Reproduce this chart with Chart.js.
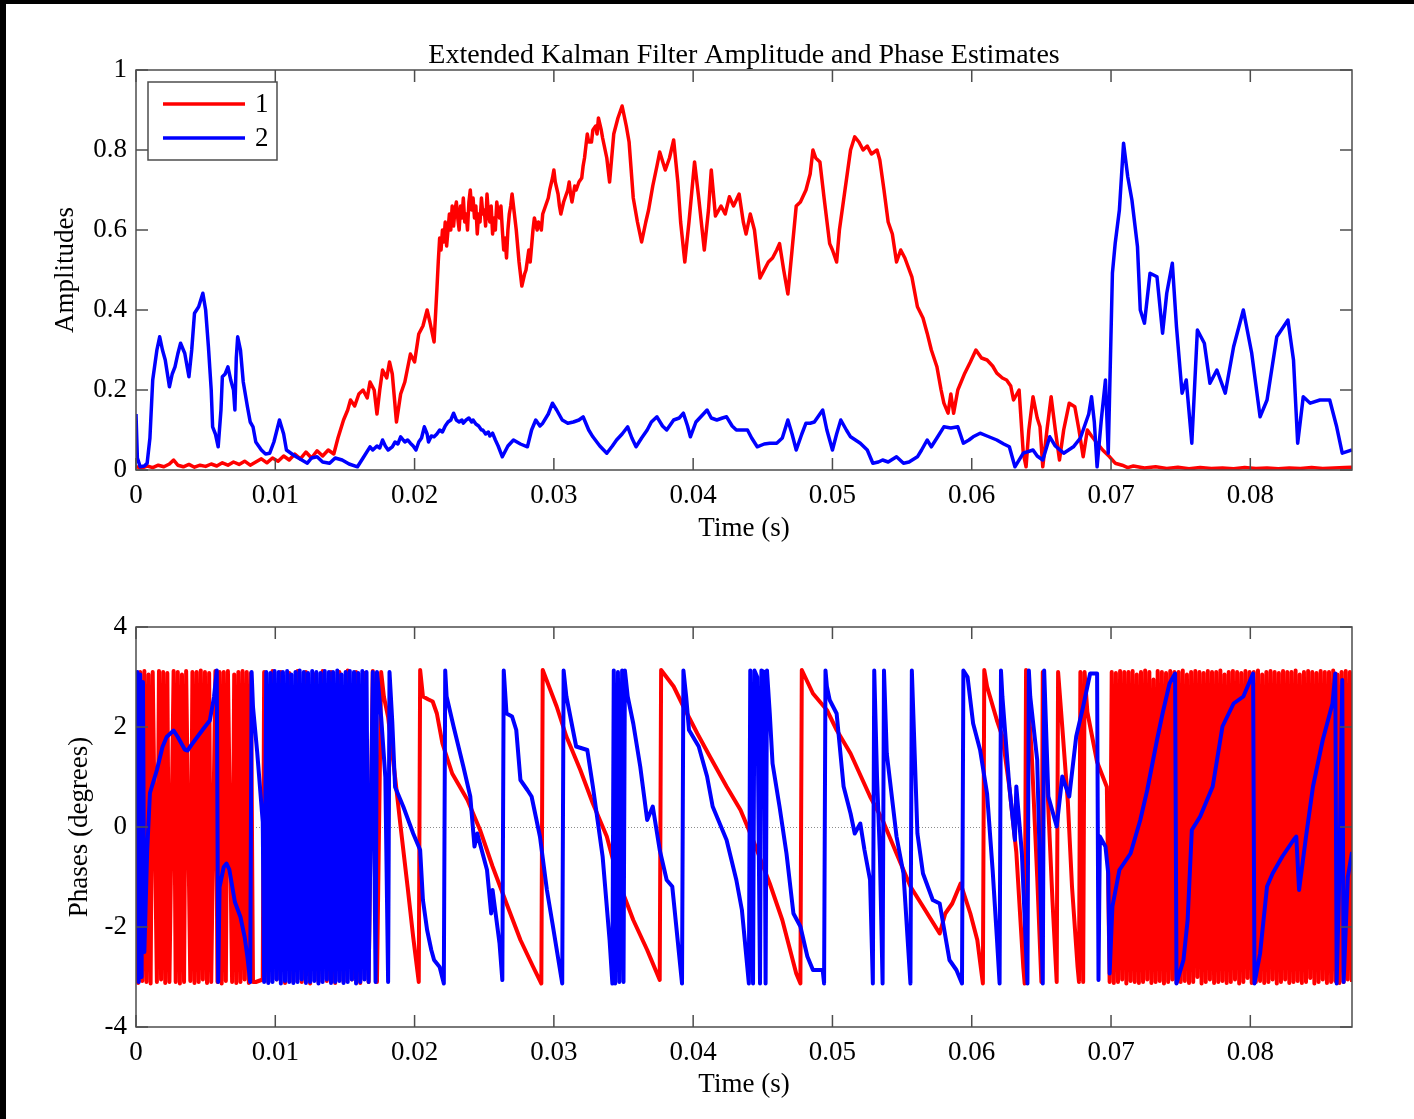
<!DOCTYPE html>
<html>
<head>
<meta charset="utf-8">
<script src="https://cdn.jsdelivr.net/npm/chart.js@4.4.1/dist/chart.umd.min.js"></script>
<style>
  html, body { margin: 0; padding: 0; background: #000; overflow: hidden; }
  #sheet { position: absolute; left: 6px; top: 4px; width: 1408px; height: 1115px; background: #fff; }
  .box { position: absolute; left: 0; width: 1414px; }
</style>
</head>
<body>
<div id="sheet"></div>
<div class="box" style="top:0;height:560px"><canvas id="amp"></canvas></div>
<div class="box" style="top:560px;height:559px"><canvas id="phase"></canvas></div>
<script>
// series names and tick values
const seriesNames = ['1', '2'];
const timeTicks = [0, 0.01, 0.02, 0.03, 0.04, 0.05, 0.06, 0.07, 0.08];
const ampTicks = [0, 0.2, 0.4, 0.6, 0.8, 1];
const phaseTicks = [-4, -2, 0, 2, 4];

// amplitude estimates [time (s), amplitude]
const amp1 = [[0,.008],[.0004,.005],[.0008,.01],[.0012,.006],[.0016,.012],[.002,.008],[.0024,.015],[.0027,.025],[.003,.012],[.0034,.008],[.0038,.014],[.0042,.007],[.0046,.012],[.005,.009],[.0054,.015],[.0058,.01],[.0062,.018],[.0066,.012],[.007,.02],[.0074,.014],[.0078,.022],[.0082,.012],[.0086,.02],[.009,.028],[.0094,.018],[.0098,.03],[.0102,.022],[.0106,.035],[.011,.025],[.0114,.04],[.0118,.028],[.0122,.045],[.0126,.03],[.013,.048],[.0134,.035],[.0138,.05],[.0142,.04],[.0145,.08],[.0149,.125],[.0152,.15],[.0154,.175],[.0157,.16],[.016,.19],[.0163,.2],[.0166,.18],[.0168,.22],[.0171,.2],[.0173,.14],[.0175,.2],[.0177,.25],[.018,.23],[.0182,.27],[.0184,.24],[.0187,.12],[.019,.19],[.0193,.22],[.0197,.29],[.02,.27],[.0203,.34],[.0206,.36],[.0209,.4],[.0211,.37],[.0214,.32],[.0216,.45],[.0217,.52],[.0218,.58],[.0219,.55],[.022,.6],[.0221,.57],[.0222,.62],[.0223,.56],[.0224,.6],[.0225,.64],[.0226,.6],[.0227,.66],[.0228,.61],[.0229,.65],[.023,.67],[.0231,.63],[.0232,.6],[.0233,.66],[.0234,.63],[.0235,.68],[.0236,.62],[.0237,.64],[.0238,.6],[.0239,.67],[.024,.7],[.0241,.65],[.0242,.68],[.0243,.63],[.0244,.66],[.0245,.59],[.0246,.64],[.0247,.62],[.0248,.68],[.0249,.64],[.025,.65],[.0251,.61],[.0252,.69],[.0253,.64],[.0254,.62],[.0255,.66],[.0256,.59],[.0257,.63],[.0258,.6],[.0259,.67],[.026,.64],[.0261,.63],[.0262,.66],[.0263,.6],[.0264,.55],[.0265,.58],[.0266,.53],[.0267,.6],[.0268,.64],[.0269,.66],[.027,.69],[.0271,.66],[.0272,.63],[.0273,.6],[.0275,.52],[.0277,.46],[.0279,.49],[.028,.5],[.0282,.55],[.0283,.52],[.0285,.6],[.0286,.63],[.0288,.6],[.0289,.62],[.0291,.6],[.0292,.64],[.0294,.66],[.0296,.68],[.0297,.7],[.0299,.73],[.03,.75],[.0301,.72],[.0303,.69],[.0304,.66],[.0305,.64],[.0307,.67],[.0308,.68],[.031,.7],[.0311,.72],[.0312,.69],[.0313,.67],[.0315,.71],[.0316,.7],[.0318,.72],[.032,.73],[.0321,.76],[.0322,.78],[.0323,.81],[.0324,.84],[.0325,.82],[.0327,.82],[.0328,.85],[.033,.86],[.0331,.84],[.0332,.88],[.0334,.85],[.0335,.83],[.0338,.78],[.034,.72],[.0343,.84],[.0346,.88],[.0349,.91],[.0352,.86],[.0354,.82],[.0357,.68],[.036,.62],[.0363,.57],[.0366,.62],[.0368,.65],[.0371,.71],[.0374,.76],[.0376,.795],[.038,.75],[.0383,.78],[.0386,.825],[.0389,.72],[.0391,.62],[.0394,.52],[.0397,.62],[.0401,.77],[.0404,.68],[.0408,.55],[.0411,.65],[.0413,.75],[.0416,.635],[.042,.66],[.0423,.64],[.0426,.683],[.0429,.66],[.0433,.69],[.0436,.62],[.0438,.59],[.0441,.64],[.0444,.6],[.0448,.48],[.0451,.5],[.0454,.52],[.0457,.53],[.046,.55],[.0462,.566],[.0465,.5],[.0468,.44],[.0471,.55],[.0474,.66],[.0477,.67],[.0481,.7],[.0484,.74],[.0486,.8],[.0488,.78],[.0491,.77],[.0494,.68],[.0498,.566],[.05,.55],[.0503,.52],[.0505,.6],[.0508,.675],[.0511,.75],[.0513,.8],[.0516,.833],[.0519,.82],[.0522,.8],[.0525,.81],[.0528,.79],[.0532,.8],[.0534,.775],[.0537,.7],[.054,.62],[.0543,.59],[.0546,.52],[.0549,.55],[.0552,.53],[.0557,.483],[.0561,.408],[.0565,.38],[.0568,.342],[.0571,.3],[.0575,.258],[.0578,.2],[.058,.167],[.0583,.142],[.0585,.19],[.0587,.142],[.059,.2],[.0595,.242],[.0599,.27],[.0603,.3],[.0607,.28],[.0611,.275],[.0615,.26],[.0618,.242],[.0622,.23],[.0625,.225],[.0628,.21],[.063,.175],[.0634,.2],[.0637,.042],[.0639,.008],[.0641,.1],[.0644,.183],[.0647,.13],[.0649,.108],[.0651,.008],[.0654,.1],[.0657,.183],[.066,.1],[.0663,.025],[.0666,.1],[.067,.167],[.0674,.158],[.0677,.1],[.068,.033],[.0683,.1],[.0686,.085],[.069,.067],[.0694,.05],[.0699,.033],[.0703,.017],[.0708,.012],[.0712,.006],[.0716,.01],[.0724,.005],[.0732,.008],[.074,.004],[.0748,.007],[.0756,.003],[.0764,.006],[.0772,.004],[.078,.005],[.0788,.003],[.0796,.006],[.0804,.004],[.0812,.005],[.082,.003],[.0828,.005],[.0836,.004],[.0844,.006],[.0852,.004],[.086,.005],[.0868,.006],[.0873,.007]];

const amp2 = [[0,.14],[.0001,.03],[.0003,.008],[.0006,.01],[.0008,.017],[.001,.08],[.0012,.225],[.0015,.3],[.0017,.333],[.0019,.3],[.0021,.275],[.0024,.208],[.0026,.24],[.0028,.258],[.003,.29],[.0032,.317],[.0034,.3],[.0035,.292],[.0038,.233],[.004,.3],[.0042,.392],[.0045,.408],[.0048,.442],[.005,.4],[.0052,.308],[.0054,.2],[.0055,.108],[.0057,.09],[.0059,.058],[.0061,.15],[.0062,.233],[.0064,.24],[.0066,.258],[.0068,.225],[.007,.2],[.0071,.15],[.0072,.28],[.0073,.333],[.0075,.3],[.0077,.22],[.008,.158],[.0082,.12],[.0084,.108],[.0086,.07],[.009,.05],[.0093,.04],[.0096,.042],[.0099,.07],[.0103,.125],[.0106,.09],[.0108,.05],[.0112,.04],[.0115,.033],[.0119,.025],[.0123,.017],[.0126,.03],[.013,.033],[.0134,.02],[.0139,.017],[.0143,.03],[.0148,.025],[.0153,.015],[.0159,.008],[.0163,.03],[.0168,.058],[.017,.05],[.0173,.06],[.0175,.055],[.0177,.075],[.0179,.06],[.0181,.05],[.0184,.058],[.0186,.07],[.0188,.065],[.019,.083],[.0193,.07],[.0195,.075],[.0197,.067],[.0199,.06],[.0201,.05],[.0203,.07],[.0205,.08],[.0207,.108],[.0209,.09],[.021,.07],[.0212,.085],[.0214,.083],[.0216,.09],[.0218,.1],[.022,.095],[.0222,.11],[.0224,.12],[.0226,.125],[.0228,.142],[.023,.125],[.0232,.12],[.0234,.125],[.0235,.117],[.0237,.125],[.0239,.13],[.0241,.12],[.0242,.125],[.0244,.115],[.0246,.11],[.0248,.1],[.0249,.1],[.0251,.09],[.0253,.095],[.0254,.085],[.0256,.092],[.0258,.075],[.026,.06],[.0263,.033],[.0267,.06],[.0271,.075],[.0276,.065],[.0281,.058],[.0284,.1],[.0287,.125],[.029,.11],[.0292,.117],[.0296,.14],[.0299,.167],[.0302,.15],[.0306,.125],[.031,.117],[.0314,.12],[.0318,.125],[.0321,.133],[.0325,.1],[.0328,.083],[.0333,.06],[.0338,.042],[.0342,.06],[.0345,.075],[.0349,.09],[.0353,.108],[.0356,.08],[.0359,.058],[.0363,.08],[.0367,.1],[.037,.12],[.0374,.133],[.0378,.11],[.0381,.1],[.0386,.125],[.039,.13],[.0393,.142],[.0396,.11],[.0398,.083],[.0402,.12],[.041,.15],[.0413,.13],[.0417,.125],[.0421,.13],[.0424,.133],[.0428,.11],[.0431,.1],[.0436,.1],[.0439,.1],[.0442,.08],[.0446,.058],[.0451,.065],[.0455,.067],[.046,.067],[.0464,.08],[.0468,.125],[.0471,.09],[.0474,.05],[.0478,.09],[.0481,.117],[.0484,.117],[.0487,.12],[.0493,.15],[.0496,.1],[.05,.05],[.0503,.09],[.0506,.125],[.051,.1],[.0513,.083],[.052,.067],[.0525,.05],[.0529,.017],[.0533,.02],[.0536,.025],[.054,.02],[.0546,.033],[.0551,.017],[.0555,.02],[.0561,.033],[.0564,.05],[.0568,.075],[.0571,.058],[.0575,.08],[.058,.108],[.0585,.105],[.059,.108],[.0594,.067],[.0598,.075],[.0601,.083],[.0606,.092],[.0611,.085],[.0618,.075],[.0623,.065],[.0627,.058],[.0631,.008],[.0637,.042],[.0644,.05],[.0647,.035],[.0651,.025],[.0656,.083],[.066,.06],[.0666,.042],[.0673,.058],[.0678,.08],[.068,.1],[.0684,.14],[.0686,.183],[.0688,.12],[.069,.008],[.0693,.125],[.0696,.225],[.0698,.042],[.0701,.492],[.0703,.567],[.0706,.65],[.0709,.817],[.0712,.733],[.0715,.675],[.0719,.558],[.0721,.4],[.0724,.367],[.0728,.492],[.0733,.483],[.0737,.342],[.074,.442],[.0744,.517],[.0747,.358],[.0751,.192],[.0754,.225],[.0758,.067],[.0762,.35],[.0767,.317],[.0771,.217],[.0776,.25],[.0782,.192],[.0788,.308],[.0795,.4],[.0801,.292],[.0807,.133],[.0812,.175],[.0819,.333],[.0827,.375],[.0831,.275],[.0834,.067],[.0838,.183],[.0843,.167],[.085,.175],[.0857,.175],[.0862,.108],[.0866,.042],[.0873,.05]];

// phase estimates [time (s), phase]
const phase1 = [[0,3.1],[.00015,-3.12],[.0003,3.1],[.00045,-3.08],[.0006,3.12],[.00075,-3.1],[.0009,3.05],[.00105,-3.13],[.0012,3.1],[.0015,-3.1],[.00165,3.12],[.0018,-3.05],[.00195,3.1],[.0021,-3.12],[.00225,3.08],[.0024,-3.1],[.0027,3.12],[.00285,-3.1],[.003,3.1],[.00315,-3.13],[.0033,3.05],[.00345,-3.1],[.0036,3.12],[.0039,-3.08],[.00405,3.1],[.0042,-3.12],[.00435,3.1],[.0045,-3.1],[.00465,3.13],[.0048,-3.05],[.00495,3.1],[.0051,-3.12],[.00525,3.08],[.0054,-3.1],[.0057,3.12],[.00585,-3.1],[.006,3.1],[.00615,-3.13],[.0063,3.1],[.00645,-3.08],[.0066,3.12],[.0069,-3.1],[.00705,3.05],[.0072,-3.12],[.00735,3.1],[.0075,-3.1],[.00765,3.12],[.0078,-3.05],[.00795,3.1],[.0081,-3.12],[.00825,3.08],[.0084,-3.1],[.0086,-3.1],[.0091,-3.05],
[.0092,3.1],[.0095,-3.1],[.0098,3.12],[.0101,-3.05],[.0104,3.1],[.0107,-3.12],[.011,3.08],[.0113,-3.1],[.0116,3.12],[.0119,-3.1],[.0122,3.1],[.0125,-3.13],[.0128,3.05],[.0131,-3.1],[.0134,3.12],[.0137,-3.08],[.014,3.1],[.0143,-3.12],[.0146,3.1],[.0149,-3.1],[.0152,3.13],[.0155,-3.05],[.0158,3.1],[.0161,-3.12],[.0164,3.08],[.0167,-3.1],[.017,3.12],[.0173,-3.1],
[.0176,3.1],[.0178,2.6],[.0181,2.2],[.0186,1.0],[.019,0.0],[.0195,-1.2],[.0199,-2.2],[.0203,-3.1],[.0204,3.14],[.0206,2.61],[.021,2.55],[.0213,2.51],[.0216,2.27],[.022,1.67],[.0227,1.07],[.0238,.54],[.0247,-.06],[.0256,-.79],[.0266,-1.53],[.0276,-2.26],[.0285,-2.79],[.0291,-3.13],[.0292,3.14],[.0302,2.41],[.0309,1.81],[.0319,1.14],[.0328,.47],[.0338,-.19],[.0347,-1.13],[.0357,-1.86],[.0367,-2.46],[.0376,-3.06],[.0377,3.14],[.0386,2.81],[.0393,2.41],[.0403,1.87],[.0412,1.41],[.0424,.81],[.0434,.34],[.0443,-.26],[.0455,-1.13],[.0464,-1.86],[.0474,-2.93],[.0477,-3.13],[.0478,3.14],[.0486,2.67],[.0496,2.34],[.0503,1.94],[.0513,1.47],[.0527,.61],[.0536,.14],[.0546,-.53],[.0556,-1.19],[.0565,-1.59],[.0577,-2.13],[.0581,-1.73],[.0586,-1.53],[.0592,-1.13],[.0599,-1.73],[.0604,-2.26],[.0608,-3.13],[.0609,3.14],[.0611,2.81],[.0618,2.14],[.0622,1.81],[.0627,.8],[.0632,-.5],[.0637,-2.8],[.0638,-3.13],[.0639,3.14],[.0643,1.5],[.0647,-1.0],[.065,-3.1],[.0651,3.1],[.0654,1.0],[.0658,-1.5],[.0661,-3.1],[.0662,3.1],[.0665,2.0],[.0669,.5],[.0672,-1.2],[.0676,-2.8],[.0677,-3.1],[.0678,3.1],[.068,-3.1],[.0681,3.1],[.0683,2.3],[.069,1.3],[.0697,.8],[.0699,-3.1],
[.07005,3.1],[.0702,-3.12],[.07035,3.08],[.0705,-3.1],[.07065,3.12],[.0708,-3.05],[.07095,3.1],[.0711,-3.13],[.07125,3.1],[.0714,-3.08],[.07155,3.12],[.0717,-3.1],[.07185,3.05],[.072,-3.12],[.07215,3.1],[.0723,-3.1],[.07245,3.13],[.0726,-3.05],[.07275,3.1],[.0729,-3.12],[.07305,2.95],[.0732,-3.1],[.07335,3.12],[.0735,-3.08],[.07365,3.1],[.0738,-3.13],[.07395,3.08],[.0741,-3.1],[.07425,3.12],[.0744,-3.05],[.07455,3.1],[.0747,-3.12],[.07485,3.1],[.075,-3.1],[.07515,3.13],[.0753,-3.08],[.07545,3.05],[.0756,-3.12],[.07575,3.1],[.0759,-3.1],[.07605,3.12],[.0762,-3.0],[.07635,3.1],[.0765,-3.13],[.07665,3.08],[.0768,-3.1],[.07695,3.12],[.0771,-3.05],[.07725,3.1],[.0774,-3.12],[.07755,3.1],[.0777,-3.1],[.07785,3.13],[.078,-3.08],[.07815,3.05],[.0783,-3.12],[.07845,3.1],[.0786,-3.1],[.07875,3.12],[.0789,-3.05],[.07905,3.1],[.0792,-3.13],[.07935,3.08],[.0795,-3.1],[.07965,3.12],[.0798,-3.02],[.07995,3.1],[.0801,-3.12],[.08025,3.1],[.0804,-3.1],[.08055,3.13],[.0807,-3.08],[.08085,3.05],[.081,-3.12],[.08115,3.1],[.0813,-3.1],[.08145,3.12],[.0816,-3.05],[.08175,3.1],[.0819,-3.13],[.08205,3.08],[.0822,-3.1],[.08235,3.12],[.0825,-3.05],[.08265,3.1],[.0828,-3.12],[.08295,3.1],[.0831,-3.1],[.08325,3.13],[.0834,-3.08],[.08355,3.05],[.0837,-3.12],[.08385,3.1],[.084,-3.1],[.08415,3.12],[.0843,-3.02],[.08445,3.1],[.0846,-3.13],[.08475,3.08],[.0849,-3.1],[.08505,3.12],[.0852,-3.05],[.08535,3.1],[.0855,-3.12],[.08565,3.1],[.0858,-3.1],[.08595,3.13],[.0861,-3.08],[.08625,3.05],[.0864,-3.12],[.08655,3.1],[.0867,-3.1],[.08685,3.12],[.087,-3.05],[.08715,3.1],[.0873,-3.1]];

const phase2 = [[0,.8],[.0001,3.1],[.0002,-3.1],[.0003,3.05],[.0004,-3.0],[.0005,2.9],[.0006,-2.5],[.0008,-.5],[.001,.68],[.0015,1.14],[.0019,1.6],[.0022,1.8],[.0027,1.93],[.003,1.8],[.0032,1.7],[.0035,1.55],[.0037,1.53],[.004,1.65],[.0044,1.8],[.0048,1.95],[.0053,2.13],[.0056,2.6],[.0058,3.13],[.0059,-3.1],[.006,-1.2],[.0063,-.8],[.0065,-.73],[.0067,-.85],[.0071,-1.5],[.0075,-1.8],[.0078,-2.2],[.008,-2.6],[.0082,-3.1],[.0083,3.1],[.0084,2.4],[.0087,1.5],[.0089,.8],[.0091,.1],
[.0092,-3.1],[.00935,3.1],[.0095,-3.12],[.00965,3.08],[.0098,-3.1],[.00995,3.12],[.0101,-3.05],[.01025,3.1],[.0104,-3.13],[.01055,3.1],[.0107,-3.08],[.01085,3.12],[.011,-3.1],[.01115,3.05],[.0113,-3.12],[.01145,3.1],[.0116,-3.1],[.01175,3.13],[.0119,-3.05],[.01205,3.1],[.0122,-3.12],[.01235,3.08],[.0125,-3.1],[.01265,3.12],[.0128,-3.08],[.01295,3.1],[.0131,-3.13],[.01325,3.08],[.0134,-3.1],[.01355,3.12],[.0137,-3.05],[.01385,3.1],[.014,-3.12],[.01415,3.1],[.0143,-3.1],[.01445,3.13],[.0146,-3.08],[.01475,3.05],[.0149,-3.12],[.01505,3.1],[.0152,-3.1],[.01535,3.12],[.0155,-3.05],[.01565,3.1],[.0158,-3.13],[.01595,3.08],[.0161,-3.1],[.01625,3.12],[.0164,-3.05],[.01655,3.1],[.0167,-3.1],
[.017,3.1],[.0172,-3.1],[.0173,3.1],[.0176,2.2],[.0179,1.0],[.0181,-3.1],[.0182,3.1],[.0184,2.1],[.0186,.8],[.0192,.4],[.0199,-.13],[.0204,-.46],[.0206,-1.46],[.0209,-2.06],[.0212,-2.46],[.0214,-2.66],[.0218,-2.8],[.0221,-3.13],[.0222,3.13],[.0223,2.61],[.0228,2.01],[.0235,1.21],[.024,.61],[.0243,-.39],[.0245,-.13],[.0252,-.86],[.0255,-1.73],[.0256,-1.26],[.0261,-2.33],[.0263,-3.06],[.0264,3.13],[.0266,2.27],[.027,2.21],[.0273,1.94],[.0276,.94],[.0281,.74],[.0284,.61],[.029,-.19],[.0295,-1.26],[.0299,-1.93],[.0306,-3.13],[.0307,3.13],[.0309,2.61],[.0316,1.61],[.0324,1.54],[.0328,.81],[.0335,-.59],[.034,-2.26],[.0342,-3.13],[.0343,3.13],[.0344,-3.13],[.0346,3.1],[.0347,-3.1],[.0349,3.13],[.035,-3.1],[.0351,3.13],[.0353,2.61],[.0357,2.07],[.0362,1.21],[.0367,.14],[.0371,.41],[.0376,-.46],[.0381,-1.06],[.0385,-1.19],[.0392,-3.13],[.0393,3.13],[.0395,2.6],[.0397,1.94],[.0404,1.61],[.041,1.01],[.0414,.41],[.0424,-.26],[.0431,-1.06],[.0435,-1.66],[.044,-3.13],[.0441,3.13],[.0443,-3.13],[.0444,3.13],[.0446,3.0],[.0448,-3.13],[.0449,3.13],[.0451,3.1],[.0452,-3.13],[.0453,3.13],[.0455,2.27],[.0457,1.27],[.0462,.41],[.0467,-.53],[.0472,-1.73],[.0477,-1.99],[.0482,-2.59],[.0486,-2.86],[.0493,-2.86],[.0494,-3.13],[.0495,3.13],[.0496,2.81],[.0498,2.54],[.0503,2.27],[.0508,.81],[.0513,.27],[.0516,-.13],[.052,.07],[.0523,-.46],[.0527,-1.06],[.0529,-3.13],[.053,3.13],[.0532,1.0],[.0534,-.5],[.0536,-3.13],[.0537,3.13],[.0539,1.47],[.0546,-.19],[.0551,-.93],[.0556,-3.13],[.0557,3.13],[.0561,-.13],[.0565,-.93],[.0572,-1.46],[.0577,-1.53],[.0584,-2.66],[.0589,-2.86],[.0593,-3.13],[.0594,3.13],[.0597,3.0],[.0601,2.07],[.0606,1.54],[.0611,.67],[.0615,-.86],[.0618,-2.19],[.062,-3.13],[.0621,3.13],[.0622,2.61],[.0627,.81],[.0631,-.26],[.0632,.81],[.0636,-.53],[.064,-3.13],[.0641,3.13],[.0642,2.61],[.0647,1.34],[.0651,-3.13],[.0652,3.13],[.0655,.61],[.0661,.01],[.0665,1.01],[.067,.61],[.0675,1.81],[.068,2.41],[.0685,3.07],[.069,3.07],[.0691,-3.06],[.0692,-.19],[.0696,-.39],[.0698,-.93],[.0699,-2.93],[.0701,-1.59],[.0706,-.86],[.0714,-.53],[.0721,.14],[.0726,.74],[.0733,1.74],[.0737,2.27],[.0742,2.87],[.0746,3.07],[.0747,-3.13],[.0752,-2.66],[.0755,-1.86],[.0758,-.06],[.0764,.21],[.0773,.81],[.078,2.01],[.0788,2.47],[.0795,2.61],[.0802,3.07],[.0803,-3.13],[.0807,-2.53],[.0812,-1.19],[.0816,-.93],[.0823,-.59],[.0831,-.26],[.0833,-.19],[.0835,-1.26],[.084,-.19],[.0845,.81],[.0852,1.74],[.0859,2.47],[.0861,3.07],[.0862,-3.13],[.0864,-.86],[.0866,2.94],[.0867,-3.1],[.087,-1.0],[.0873,-.5]];

const FONT = "'Liberation Serif', 'Times New Roman', serif";
const RED = '#ff0000';
const BLUE = '#0000ff';
const AXIS = '#4d4d4d';

const toXY = pts => pts.map(([x, y]) => ({ x, y }));

// MATLAB style box with inward ticks, optional dotted zero line
const framePlugin = {
  id: 'frame',
  beforeDatasetsDraw(chart, args, opts) {
    if (!opts.zeroLine) return;
    const { ctx, chartArea: a, scales: { y } } = chart;
    const py = Math.round(y.getPixelForValue(0)) + 0.5;
    ctx.save();
    ctx.strokeStyle = '#8c8c8c';
    ctx.lineWidth = 1;
    ctx.setLineDash([1, 2]);
    ctx.beginPath();
    ctx.moveTo(a.left, py);
    ctx.lineTo(a.right, py);
    ctx.stroke();
    ctx.restore();
  },
  afterDatasetsDraw(chart) {
    const { ctx, chartArea: a, scales: { x, y } } = chart;
    const len = 12;
    ctx.save();
    ctx.strokeStyle = AXIS;
    ctx.lineWidth = 1.5;
    ctx.strokeRect(a.left, a.top, a.right - a.left, a.bottom - a.top);
    ctx.beginPath();
    x.ticks.forEach(t => {
      const px = x.getPixelForValue(t.value);
      ctx.moveTo(px, a.bottom); ctx.lineTo(px, a.bottom - len);
      ctx.moveTo(px, a.top); ctx.lineTo(px, a.top + len);
    });
    y.ticks.forEach(t => {
      const py = y.getPixelForValue(t.value);
      ctx.moveTo(a.left, py); ctx.lineTo(a.left + len, py);
      ctx.moveTo(a.right, py); ctx.lineTo(a.right - len, py);
    });
    ctx.stroke();
    ctx.restore();
  }
};

// legend box drawn inside the plot area (top left)
const insideLegend = {
  id: 'insideLegend',
  afterDraw(chart, args, opts) {
    if (!opts.show) return;
    const { ctx, chartArea: a } = chart;
    const bx = a.left + 12, by = a.top + 12, bw = 129, bh = 78;
    ctx.save();
    ctx.fillStyle = '#fff';
    ctx.fillRect(bx, by, bw, bh);
    ctx.strokeStyle = AXIS;
    ctx.lineWidth = 1.5;
    ctx.strokeRect(bx, by, bw, bh);
    chart.data.datasets.forEach((ds, i) => {
      const ly = by + 22 + i * 34;
      ctx.strokeStyle = ds.borderColor;
      ctx.lineWidth = 3.5;
      ctx.beginPath();
      ctx.moveTo(bx + 15, ly);
      ctx.lineTo(bx + 97, ly);
      ctx.stroke();
      ctx.fillStyle = '#000';
      ctx.font = '27px ' + FONT;
      ctx.textBaseline = 'middle';
      ctx.fillText(ds.label, bx + 107, ly + 1);
    });
    ctx.restore();
  }
};

function datasets(a, b, w) {
  return [
    { label: seriesNames[0], data: toXY(a), borderColor: RED, borderWidth: w, order: 1 },
    { label: seriesNames[1], data: toXY(b), borderColor: BLUE, borderWidth: w, order: 0 }
  ];
}

function options(cfg) {
  return {
    animation: false,
    responsive: true,
    maintainAspectRatio: false,
    layout: { padding: { top: cfg.padTop, right: 62, left: 0, bottom: 0 } },
    elements: {
      point: { radius: 0 },
      line: { tension: 0, borderJoinStyle: 'round', fill: false }
    },
    plugins: {
      legend: { display: false },
      tooltip: { enabled: false },
      title: cfg.title ? {
        display: true, text: cfg.title, color: '#000', fullSize: false,
        font: { family: FONT, size: 28, weight: 'normal', lineHeight: 1.0 },
        padding: { top: 42, bottom: 0 }
      } : { display: false },
      frame: { zeroLine: cfg.zeroLine },
      insideLegend: { show: cfg.legend }
    },
    scales: {
      x: {
        type: 'linear', min: 0, max: 0.0873,
        grid: { display: false, drawTicks: false },
        border: { display: false },
        afterBuildTicks: s => { s.ticks = timeTicks.map(v => ({ value: v })); },
        afterFit: s => { s.height = cfg.xHeight; },
        ticks: {
          color: '#000', padding: 10, maxRotation: 0, autoSkip: false,
          font: { family: FONT, size: 27 },
          callback: v => String(+v.toFixed(3))
        },
        title: {
          display: true, text: 'Time (s)', color: '#000',
          font: { family: FONT, size: 27, lineHeight: 1.2 },
          padding: { top: 0, bottom: cfg.xTitlePad }
        }
      },
      y: {
        type: 'linear', min: cfg.yTicks[0], max: cfg.yTicks[cfg.yTicks.length - 1],
        grid: { display: false, drawTicks: false },
        border: { display: false },
        afterBuildTicks: s => { s.ticks = cfg.yTicks.map(v => ({ value: v })); },
        afterFit: s => { s.width = 136; },
        ticks: {
          color: '#000', padding: 9,
          font: { family: FONT, size: 27 },
          callback: v => String(+v.toFixed(2))
        },
        title: {
          display: true, text: cfg.yTitle, color: '#000',
          font: { family: FONT, size: 27, lineHeight: 1.2 },
          padding: { top: cfg.yTitlePad, bottom: 0 }
        }
      }
    }
  };
}

new Chart(document.getElementById('amp'), {
  type: 'line',
  data: { datasets: datasets(amp1, amp2, 3.5) },
  options: options({
    padTop: 0, title: 'Extended Kalman Filter Amplitude and Phase Estimates',
    xHeight: 90, xTitlePad: 15, yTicks: ampTicks, yTitle: 'Amplitudes', yTitlePad: 50,
    zeroLine: false, legend: true
  }),
  plugins: [framePlugin, insideLegend]
});

new Chart(document.getElementById('phase'), {
  type: 'line',
  data: { datasets: datasets(phase1, phase2, 4) },
  options: options({
    padTop: 67, title: null,
    xHeight: 92, xTitlePad: 18, yTicks: phaseTicks, yTitle: 'Phases (degrees)', yTitlePad: 64,
    zeroLine: true, legend: false
  }),
  plugins: [framePlugin, insideLegend]
});
</script>
</body>
</html>
